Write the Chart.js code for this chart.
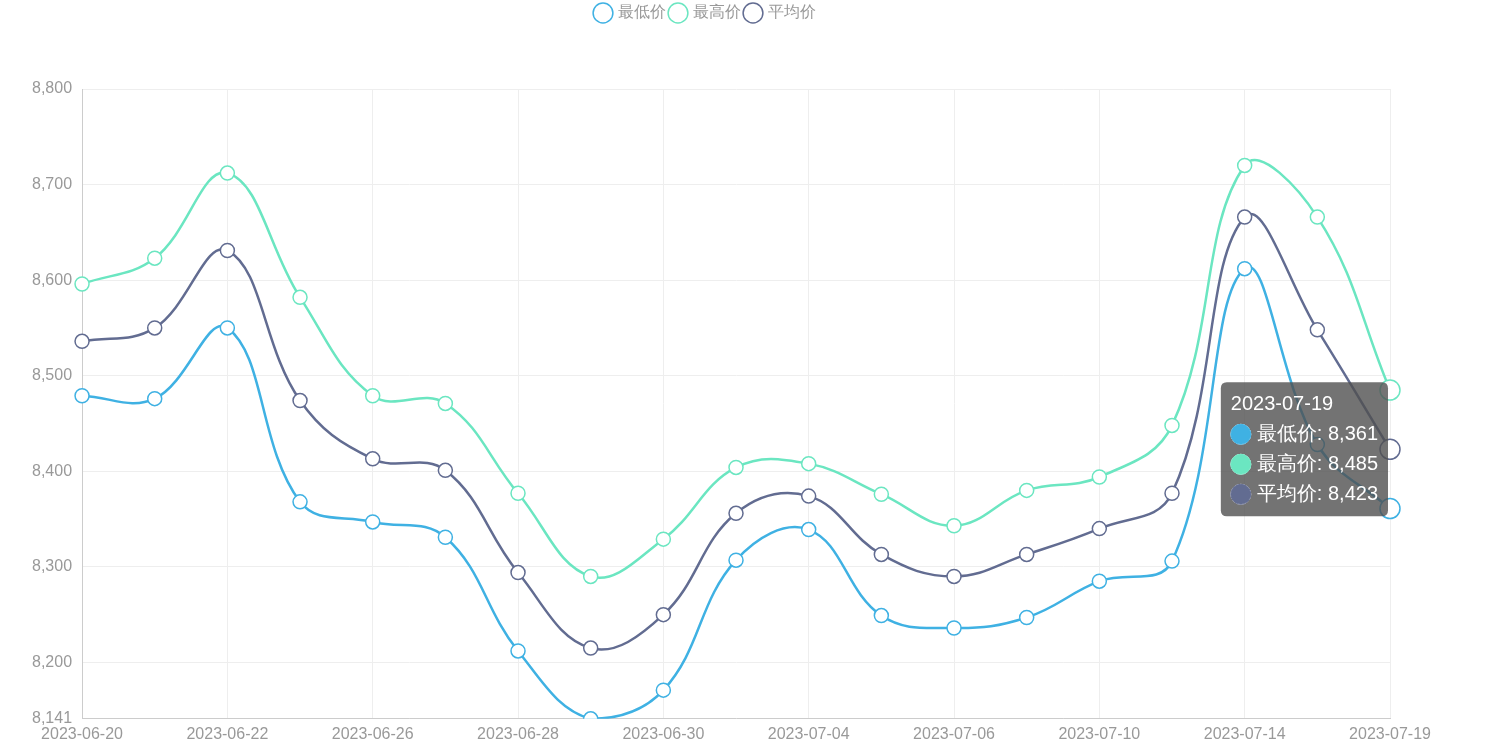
<!DOCTYPE html>
<html>
<head>
<meta charset="utf-8">
<script src="https://cdn.jsdelivr.net/npm/chart.js@4"></script>
<style>
  html, body { margin: 0; padding: 0; background: #fff; }
  #wrap { width: 1508px; height: 752px; }
</style>
</head>
<body>
<div id="wrap"><canvas id="chartPrecio"></canvas></div>
<script>
// category dates (only every other label is shown)
const fechas = ['2023-06-20', '2023-06-21', '2023-06-22', '2023-06-25', '2023-06-26', '2023-06-27',
    '2023-06-28', '2023-06-29', '2023-06-30', '2023-07-03', '2023-07-04', '2023-07-05',
    '2023-07-06', '2023-07-07', '2023-07-10', '2023-07-11', '2023-07-14', '2023-07-17', '2023-07-19'];
const minimo = [8479, 8476, 8550, 8368, 8347, 8331, 8212, 8141, 8171, 8307, 8339, 8249,
    8236, 8247, 8285, 8306, 8612, 8428, 8361];
const maximo = [8596, 8623, 8712, 8582, 8479, 8471, 8377, 8290, 8329, 8404, 8408, 8376,
    8343, 8380, 8394, 8448, 8720, 8666, 8485];
const promedio = [8536, 8550, 8631, 8474, 8413, 8401, 8294, 8215, 8250, 8356, 8374, 8313,
    8290, 8313, 8340, 8377, 8666, 8548, 8423];
const ticksY = [8141, 8200, 8300, 8400, 8500, 8600, 8700, 8800];

const fmt = v => Number(v).toLocaleString('en-US');

function serie(label, data, color) {
    return {
        label: label, data: data,
        borderColor: color, backgroundColor: '#fff',
        borderWidth: 2.5, tension: 0.4,
        pointRadius: 7, pointHoverRadius: 10,
        pointBorderWidth: 1.5, pointHoverBorderWidth: 1.5,
        pointBackgroundColor: '#fff', pointBorderColor: color,
        pointHoverBackgroundColor: '#fff', pointHoverBorderColor: color
    };
}

// espacio extra bajo la leyenda
const margenLeyenda = {
    id: 'margenLeyenda',
    beforeInit(chart) {
        const fit = chart.legend.fit;
        chart.legend.fit = function() { fit.bind(chart.legend)(); this.height += 58; };
    }
};

const chart = new Chart(document.getElementById('chartPrecio'), {
    type: 'line',
    data: {
        labels: fechas,
        datasets: [
            serie('最低价', minimo, '#3fb1e3'),
            serie('最高价', maximo, '#6be6c1'),
            serie('平均价', promedio, '#626c91')
        ]
    },
    plugins: [margenLeyenda],
    options: {
        responsive: true, maintainAspectRatio: false, animation: false,
        interaction: { mode: 'index', intersect: false },
        layout: { padding: { top: 0, right: 118, left: 22, bottom: 2 } },
        scales: {
            x: {
                offset: false,
                grid: { color: ctx => ctx.index % 2 === 0 && ctx.index > 0 ? '#eeeeee' : 'rgba(0,0,0,0)', drawTicks: false },
                border: { color: '#cccccc' },
                ticks: {
                    autoSkip: false, maxRotation: 0, color: '#999', font: { size: 16 }, padding: 6,
                    callback: function(v, i) { return i % 2 === 0 ? fechas[i] : ''; }
                }
            },
            y: {
                min: 8141, max: 8800,
                afterBuildTicks: axis => { axis.ticks = ticksY.map(v => ({ value: v })); },
                grid: { color: '#eeeeee', drawTicks: false },
                border: { color: '#cccccc' },
                ticks: { color: '#999', font: { size: 16 }, padding: 10, callback: v => fmt(v) }
            }
        },
        plugins: {
            legend: {
                position: 'top',
                labels: {
                    usePointStyle: true, pointStyle: 'circle', boxWidth: 14, boxHeight: 14,
                    color: '#999', font: { size: 16 }, padding: 5
                }
            },
            tooltip: {
                backgroundColor: 'rgba(80,80,80,0.8)',
                titleFont: { size: 20, weight: 'normal' }, bodyFont: { size: 20 },
                titleColor: '#fff', bodyColor: '#fff', padding: 10, caretSize: 0,
                usePointStyle: true, boxPadding: 4, bodySpacing: 6,
                callbacks: {
                    label: ctx => ctx.dataset.label + ': ' + fmt(ctx.parsed.y),
                    labelColor: ctx => ({ borderColor: ctx.dataset.borderColor, backgroundColor: ctx.dataset.borderColor })
                }
            }
        }
    }
});

const last = fechas.length - 1;
const activos = [0, 1, 2].map(i => ({ datasetIndex: i, index: last }));
chart.setActiveElements(activos);
chart.tooltip.setActiveElements(activos, { x: 1389, y: 515 });
chart.update();
</script>
</body>
</html>
